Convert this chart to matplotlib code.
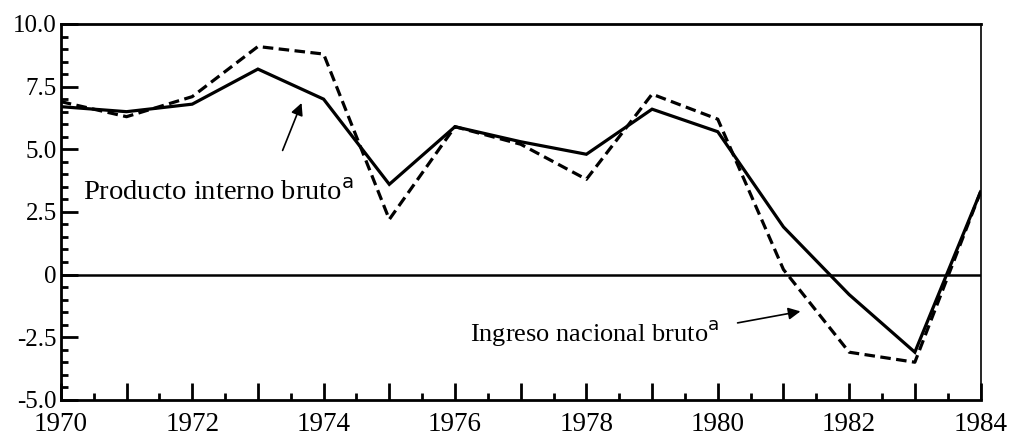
import matplotlib.pyplot as plt
from matplotlib.ticker import MultipleLocator, FixedLocator

# datos (tasas de crecimiento, %)
anios = [1970, 1971, 1972, 1973, 1974, 1975, 1976, 1977, 1978, 1979, 1980, 1981, 1982, 1983, 1984]
pib = [6.7, 6.5, 6.8, 8.2, 7.0, 3.6, 5.9, 5.3, 4.8, 6.6, 5.7, 1.9, -0.8, -3.1, 3.3]
inb = [6.9, 6.3, 7.1, 9.1, 8.8, 2.2, 5.9, 5.2, 3.8, 7.2, 6.2, 0.2, -3.1, -3.5, 3.3]

y_ticks = [-5.0, -2.5, 0, 2.5, 5.0, 7.5, 10.0]
y_labels = ['-5.0', '-2.5', '0', '2.5', '5.0', '7.5', '10.0']
x_labels = ['1970', '', '1972', '', '1974', '', '1976', '', '1978', '', '1980', '', '1982', '', '1984']

plt.rcParams['font.family'] = ['Liberation Serif', 'DejaVu Serif']

fig = plt.figure(figsize=(10.14, 4.36), dpi=100)
ax = fig.add_axes([0.060, 0.083, 0.907, 0.862])

ax.plot(anios, pib, color='black', lw=2.3, solid_joinstyle='miter')
ax.plot(anios, inb, color='black', lw=2.3, linestyle=(0, (3.3, 1.7)))
ax.axhline(0, color='black', lw=1.8)

ax.set_xlim(1970, 1984)
ax.set_ylim(-5, 10)

ax.yaxis.set_major_locator(FixedLocator(y_ticks))
ax.set_yticklabels(y_labels)
ax.yaxis.set_minor_locator(MultipleLocator(0.5))
ax.xaxis.set_major_locator(FixedLocator(anios))
ax.set_xticklabels(x_labels)
ax.xaxis.set_minor_locator(MultipleLocator(0.5))

ax.tick_params(axis='both', which='major', direction='in', width=2, color='black')
ax.tick_params(axis='y', which='major', length=12, pad=3, labelsize=18)
ax.tick_params(axis='x', which='major', length=12, pad=9, labelsize=19.5)
ax.tick_params(axis='both', which='minor', direction='in', length=5, width=2)

for s in ['left', 'bottom', 'top']:
    ax.spines[s].set_linewidth(2)
ax.spines['right'].set_linewidth(1.2)

ax.text(1970.33, 3.25, 'Producto interno bruto$^{\\mathrm{a}}$', fontsize=20.5, va='center', ha='left')
ax.annotate('', xy=(1973.68, 6.95), xytext=(1973.36, 4.85),
            arrowprops=dict(arrowstyle='-|>', color='black', lw=1.2, mutation_scale=18))

ax.text(1976.23, -2.35, 'Ingreso nacional bruto$^{\\mathrm{a}}$', fontsize=19, va='center', ha='left')
ax.annotate('', xy=(1981.3, -1.45), xytext=(1980.26, -1.95),
            arrowprops=dict(arrowstyle='-|>', color='black', lw=1.2, mutation_scale=18))

fig.savefig('out.png', dpi=100)
